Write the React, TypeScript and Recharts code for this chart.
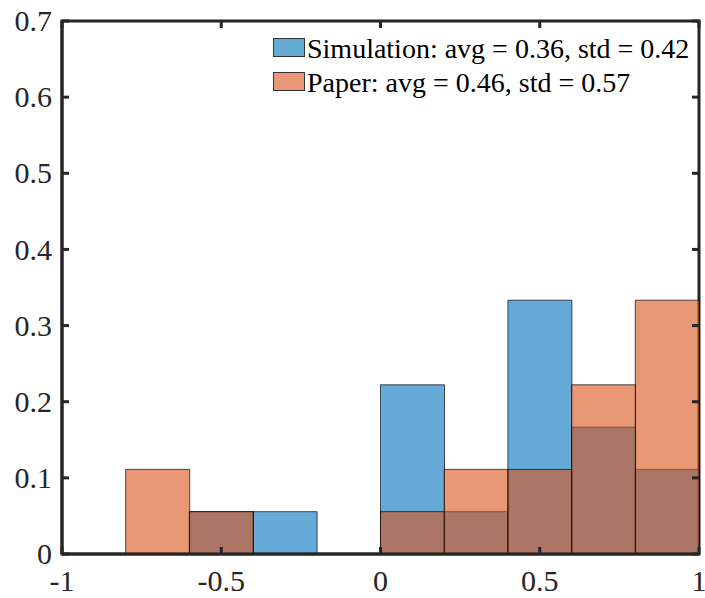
import React from 'react';
import { ComposedChart, Bar, XAxis, YAxis, ReferenceArea, ReferenceLine } from 'recharts';

const binCenters = [-0.9, -0.7, -0.5, -0.3, -0.1, 0.1, 0.3, 0.5, 0.7, 0.9];
const simulation = [0, 0, 0.0556, 0.0556, 0, 0.2222, 0.0556, 0.3333, 0.1667, 0.1111];
const paper = [0, 0.1111, 0.0556, 0, 0, 0.0556, 0.1111, 0.1111, 0.2222, 0.3333];
const xTicks = [-1, -0.5, 0, 0.5, 1];
const yTicks = [0, 0.1, 0.2, 0.3, 0.4, 0.5, 0.6, 0.7];
const seriesNames = ['Simulation: avg = 0.36, std = 0.42', 'Paper: avg = 0.46, std = 0.57'];

const data = binCenters.map((x, i) => ({ x, sim: simulation[i], paper: paper[i] }));

const FONT = 'Liberation Serif';
const AXIS = '#262626';
const BLUE = '#0072BD';
const ORANGE = '#D95319';
const TICK_LEN = 7;
const X_MIN = -1;
const X_MAX = 1;
const Y_MIN = 0;
const Y_MAX = 0.7;
// inward tick length expressed in data units for the top / right frame ticks
const TOP_TICK_DY = 0.0092;
const RIGHT_TICK_DX = 0.022;
const axisLine = { stroke: AXIS, strokeWidth: 3 };

const LeftTick = (props: any) => {
  const { x, y, payload } = props;
  return (
    <g>
      <line x1={x + 10} x2={x + 10 + TICK_LEN} y1={y} y2={y} stroke={AXIS} strokeWidth={3} />
      <text x={x} y={y} dy="0.34em" textAnchor="end" fontFamily={FONT} fontSize={30} fill={AXIS}>
        {String(payload.value)}
      </text>
    </g>
  );
};

const BottomTick = (props: any) => {
  const { x, y, payload } = props;
  return (
    <g>
      <line x1={x} x2={x} y1={y - 16} y2={y - 16 - TICK_LEN} stroke={AXIS} strokeWidth={3} />
      <text x={x} y={y} dy="0.71em" textAnchor="middle" fontFamily={FONT} fontSize={30} fill={AXIS}>
        {String(payload.value)}
      </text>
    </g>
  );
};

export default function App() {
  return (
    <div style={{ position: 'absolute', left: 0, top: 0, width: 705, height: 598, background: '#fff' }}>
      <ComposedChart
        width={705}
        height={598}
        data={data}
        margin={{ top: 21, right: 6, bottom: 0, left: 0 }}
        barCategoryGap={0}
        barGap={0}
        style={{ fontFamily: FONT }}
      >
        <XAxis
          xAxisId="bottom"
          dataKey="x"
          type="number"
          domain={[X_MIN, X_MAX]}
          ticks={xTicks}
          interval={0}
          height={44}
          tick={<BottomTick />}
          tickSize={0}
          tickMargin={16}
          axisLine={axisLine}
          tickLine={false}
        />
        <XAxis xAxisId="top" orientation="top" dataKey="x" type="number" domain={[X_MIN, X_MAX]} hide />
        <YAxis
          yAxisId="left"
          type="number"
          domain={[Y_MIN, Y_MAX]}
          ticks={yTicks}
          interval={0}
          width={62}
          tick={<LeftTick />}
          tickSize={0}
          tickMargin={10}
          axisLine={axisLine}
          tickLine={false}
        />
        <YAxis yAxisId="right" orientation="right" type="number" domain={[Y_MIN, Y_MAX]} hide />
        <ReferenceArea
          xAxisId="bottom"
          yAxisId="left"
          x1={X_MIN}
          x2={X_MAX}
          y1={Y_MIN}
          y2={Y_MAX}
          fill="none"
          fillOpacity={0}
          stroke={AXIS}
          strokeWidth={3}
          ifOverflow="visible"
        />
        {xTicks.map((t) => (
          <ReferenceLine
            key={'tx' + t}
            xAxisId="bottom"
            yAxisId="left"
            segment={[{ x: t, y: Y_MAX }, { x: t, y: Y_MAX - TOP_TICK_DY }]}
            stroke={AXIS}
            strokeWidth={3}
            ifOverflow="visible"
          />
        ))}
        {yTicks.map((t) => (
          <ReferenceLine
            key={'ty' + t}
            xAxisId="bottom"
            yAxisId="left"
            segment={[{ x: X_MAX, y: t }, { x: X_MAX - RIGHT_TICK_DX, y: t }]}
            stroke={AXIS}
            strokeWidth={3}
            ifOverflow="visible"
          />
        ))}
        <Bar
          xAxisId="bottom"
          yAxisId="left"
          dataKey="sim"
          fill={BLUE}
          fillOpacity={0.6}
          stroke="#000"
          strokeWidth={0.8}
          strokeOpacity={0.85}
          isAnimationActive={false}
        />
        <Bar
          xAxisId="top"
          yAxisId="right"
          dataKey="paper"
          fill={ORANGE}
          fillOpacity={0.6}
          stroke="#000"
          strokeWidth={0.8}
          strokeOpacity={0.85}
          isAnimationActive={false}
        />
      </ComposedChart>
      <svg
        width={705}
        height={598}
        style={{ position: 'absolute', left: 0, top: 0, pointerEvents: 'none' }}
      >
        {[BLUE, ORANGE].map((c, i) => (
          <g key={i}>
            <rect x={273.5} y={38.5 + i * 34} width={31} height={18} fill={c} fillOpacity={0.6} stroke="#333" strokeWidth={1} />
            <text x={307} y={58 + i * 34} fontFamily={FONT} fontSize={28} fill="#000">
              {seriesNames[i]}
            </text>
          </g>
        ))}
      </svg>
    </div>
  );
}
